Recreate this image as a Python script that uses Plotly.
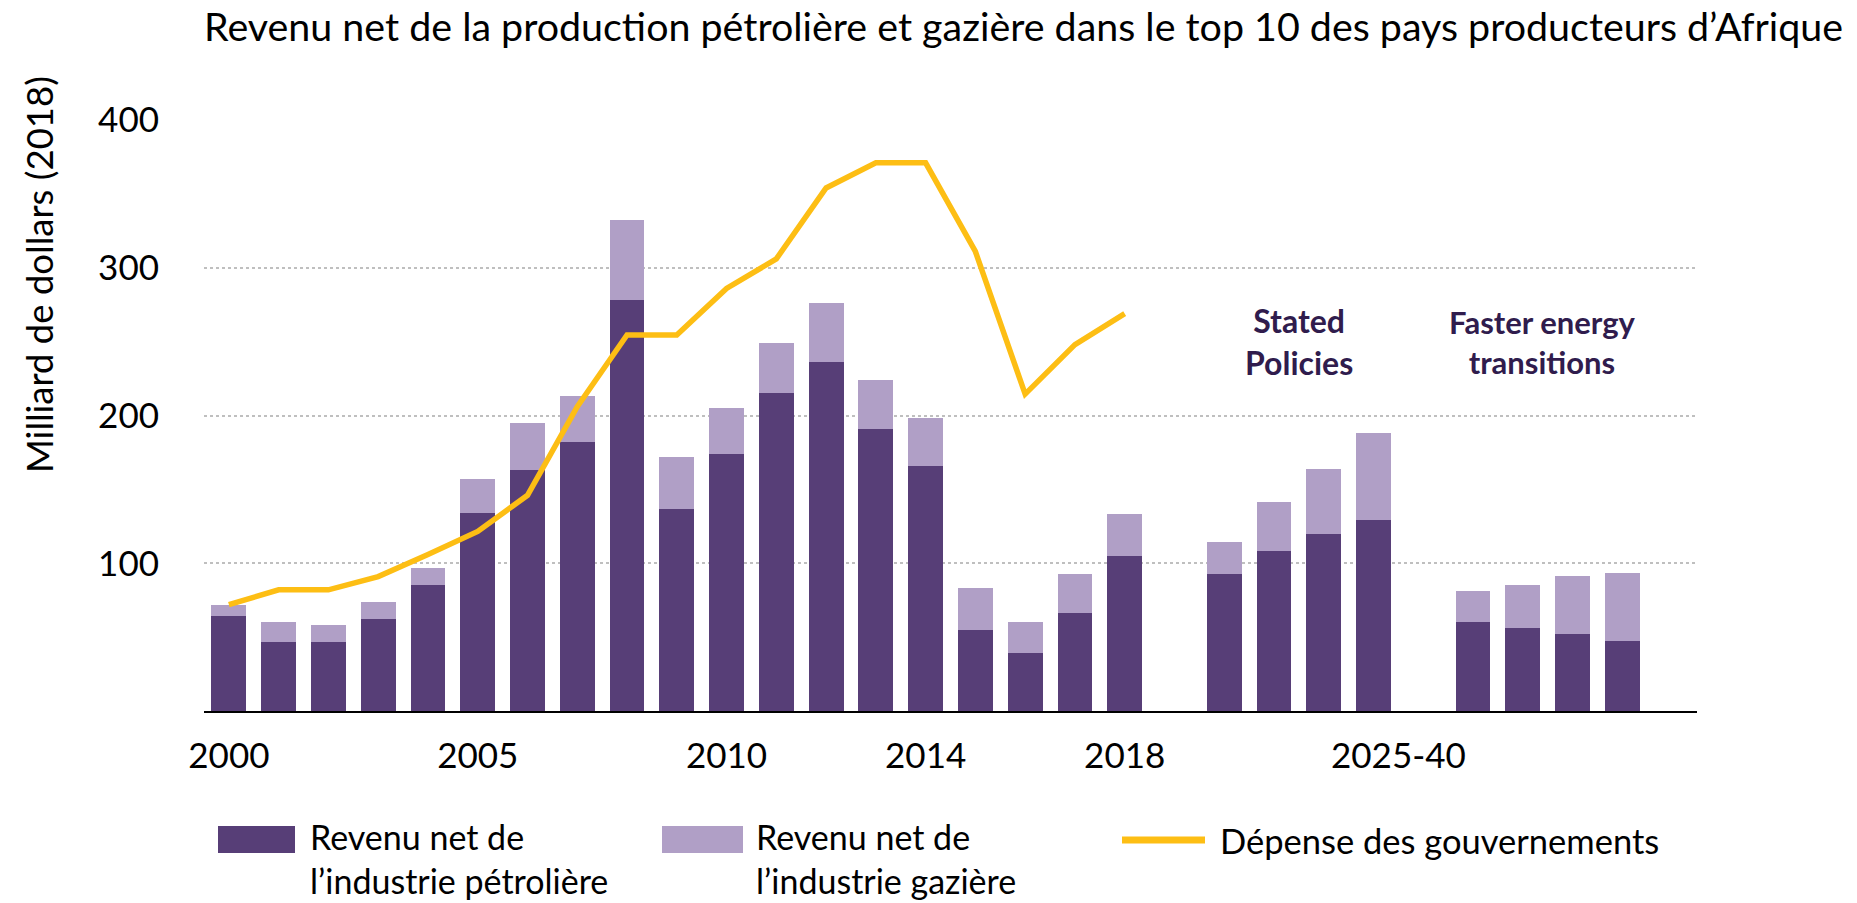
import plotly.graph_objects as go

# ---------------- data ----------------
hist_years = [str(y) for y in range(2000, 2019)]
hist_oil = [64, 47, 47, 62, 85, 134, 163, 182, 278, 137, 174, 215, 236, 191, 166, 55, 39, 66, 105]
hist_gas = [8, 13, 11, 12, 12, 23, 32, 31, 54, 35, 31, 34, 40, 33, 32, 28, 21, 27, 28]

sp_labels = ["SP-1", "SP-2", "SP-3", "SP-4"]          # Stated Policies, 2025-40
sp_oil = [93, 108, 120, 129]
sp_gas = [21.5, 33.5, 44, 59]

fet_labels = ["FET-1", "FET-2", "FET-3", "FET-4"]     # Faster energy transitions, 2025-40
fet_oil = [60, 56, 52, 47.5]
fet_gas = [21.5, 29.6, 39.7, 46.2]

gov_spend = [72, 82, 82, 91, 106, 121.5, 146, 206, 254.5, 254.5,
             286, 306, 354, 371, 371, 311, 214.5, 248, 269]

tick_labels = ["2000", "2005", "2010", "2014", "2018", "2025-40"]

# ---------------- slot positions (layout) ----------------
hist_x = list(range(len(hist_years)))
sp_x = [20 + i for i in range(len(sp_labels))]
fet_x = [25 + i for i in range(len(fet_labels))]
tick_pos = [0, 5, 10, 14, 18, 23.5]

all_x = hist_x + sp_x + fet_x
all_oil = hist_oil + sp_oil + fet_oil
all_gas = hist_gas + sp_gas + fet_gas

DARK = "#573E77"
LIGHT = "#B09FC6"
YELLOW = "#FDBE14"
ANN = "#301C4D"
FONT = "Lato"

W, H = 1857, 903
L, R, T, B = 204, 1697, 120, 711  # plot area in pixels


def px(x):
    return (x - L) / (R - L)


def py(y):
    return (B - y) / (B - T)


fig = go.Figure()
fig.add_trace(go.Bar(x=all_x, y=all_oil, width=0.7, marker=dict(color=DARK, line=dict(width=0)),
                     name="Revenu net de l’industrie pétrolière", showlegend=False))
fig.add_trace(go.Bar(x=all_x, y=all_gas, width=0.7, marker=dict(color=LIGHT, line=dict(width=0)),
                     name="Revenu net de l’industrie gazière", showlegend=False))
fig.add_trace(go.Scatter(x=hist_x, y=gov_spend, mode="lines", line=dict(color=YELLOW, width=5.5),
                         name="Dépense des gouvernements", showlegend=False))

fig.update_layout(
    width=W, height=H,
    margin=dict(l=L, r=W - R, t=T, b=H - B),
    paper_bgcolor="white", plot_bgcolor="white",
    barmode="stack",
    font=dict(family=FONT, size=35, color="black"),
    title=dict(text="Revenu net de la production pétrolière et gazière dans le top 10 des pays producteurs d’Afrique",
               x=L / W, xanchor="left", xref="container",
               y=1 - 27 / H, yanchor="middle", yref="container",
               font=dict(family=FONT, size=39.4, color="black")),
    xaxis=dict(range=[-0.5, 29.5], tickmode="array", tickvals=tick_pos, ticktext=tick_labels,
               showgrid=False, zeroline=False, showline=True, linecolor="black", linewidth=2,
               ticks="", ticklabelstandoff=13, tickfont=dict(size=35)),
    yaxis=dict(range=[0, 400], tickmode="array", tickvals=[100, 200, 300, 400],
               showgrid=True, gridcolor="#BFBFBF", gridwidth=2, griddash="dot",
               zeroline=False, showline=False, ticks="", ticklabelstandoff=44,
               tickfont=dict(size=35)),
)

# y-axis title
fig.add_annotation(text="Milliard de dollars (2018)", x=px(39), y=py(275), xref="paper", yref="paper",
                   xanchor="center", yanchor="middle",
                   textangle=-90, showarrow=False, font=dict(size=36.5, family=FONT))

# scenario labels
fig.add_annotation(text="<b>Stated<br>Policies</b>", x=21.5, y=250, xref="x", yref="y",
                   showarrow=False, font=dict(size=32, family=FONT, color=ANN))
fig.add_annotation(text="<b>Faster energy<br>transitions</b>", x=26.4, y=250, xref="x", yref="y",
                   showarrow=False, font=dict(size=31, family=FONT, color=ANN))

# custom legend
fig.add_shape(type="rect", xref="paper", yref="paper", x0=px(218), x1=px(295), y0=py(853), y1=py(826),
              fillcolor=DARK, line=dict(width=0))
fig.add_annotation(text="Revenu net de<br>l’industrie pétrolière", x=px(308), y=py(858), xref="paper", yref="paper",
                   xanchor="left", yanchor="middle", align="left", showarrow=False, font=dict(size=34, family=FONT))
fig.add_shape(type="rect", xref="paper", yref="paper", x0=px(662), x1=px(743), y0=py(853), y1=py(826),
              fillcolor=LIGHT, line=dict(width=0))
fig.add_annotation(text="Revenu net de<br>l’industrie gazière", x=px(754), y=py(858), xref="paper", yref="paper",
                   xanchor="left", yanchor="middle", align="left", showarrow=False, font=dict(size=34, family=FONT))
fig.add_shape(type="line", xref="paper", yref="paper", x0=px(1122), x1=px(1205), y0=py(840), y1=py(840),
              line=dict(color=YELLOW, width=7))
fig.add_annotation(text="Dépense des gouvernements", x=px(1218), y=py(840), xref="paper", yref="paper",
                   xanchor="left", yanchor="middle", align="left", showarrow=False, font=dict(size=34.5, family=FONT))

fig.write_html("out.html", config={"displayModeBar": False},
               post_script="document.body.style.margin='0';document.body.style.overflow='hidden';")
